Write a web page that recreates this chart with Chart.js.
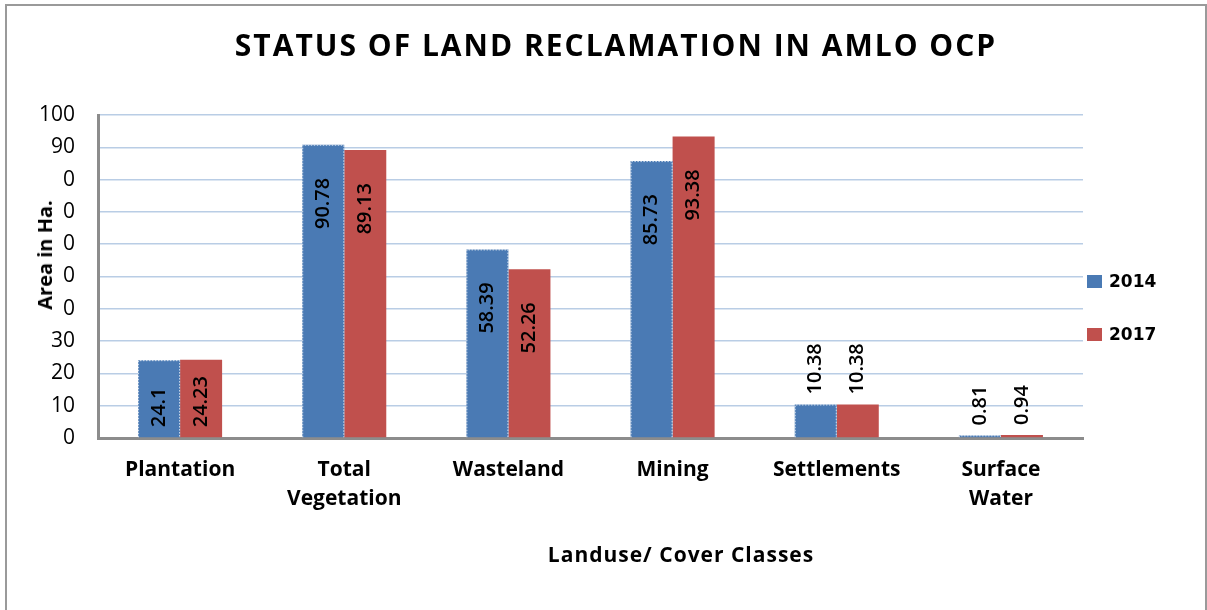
<!DOCTYPE html>
<html lang="en">
<head>
    <meta charset="UTF-8">
    <title>Status of Land Reclamation in Amlo OCP</title>
    <script src="https://cdn.jsdelivr.net/npm/chart.js"></script>
    <style>
        body {
            margin: 0;
            width: 1207px;
            height: 610px;
            overflow: hidden;
            background: #ffffff;
            font-family: 'Open Sans', sans-serif;
            position: relative;
        }
        .frame {
            position: absolute;
            left: 5px;
            top: 4px;
            width: 1198px;
            height: 640px;
            border: 2px solid #9a9a9a;
            pointer-events: none;
        }
        #chart {
            position: absolute;
            left: 0;
            top: 0;
        }
        .chart-title {
            position: absolute;
            left: 0;
            width: 1232px;
            top: 30px;
            text-align: center;
            font-size: 30px;
            line-height: 30px;
            letter-spacing: 2px;
            font-weight: bold;
            color: #000;
            white-space: nowrap;
        }
        .y-title {
            position: absolute;
            left: 45px;
            top: 255px;
            transform: translate(-50%, -50%) rotate(-90deg);
            font-size: 20px;
            line-height: 20px;
            font-weight: bold;
            white-space: nowrap;
        }
        .x-title {
            position: absolute;
            left: 481px;
            width: 400px;
            top: 544px;
            text-align: center;
            font-size: 21px;
            line-height: 21px;
            letter-spacing: 1px;
            font-weight: bold;
            white-space: nowrap;
        }
        .legend-item {
            position: absolute;
            left: 1087px;
            display: flex;
            align-items: center;
            height: 20px;
            font-family: 'DejaVu Sans', sans-serif;
            font-size: 17px;
            font-weight: bold;
        }
        .legend-item span.box {
            width: 15px;
            height: 13px;
            margin-right: 7px;
        }
    </style>
</head>
<body>
    <canvas id="chart" width="1207" height="610"></canvas>
    <div class="chart-title">STATUS OF LAND RECLAMATION IN AMLO OCP</div>
    <div class="y-title">Area in Ha.</div>
    <div class="x-title">Landuse/ Cover Classes</div>
    <div id="legend"></div>
    <div class="frame"></div>
    <script>
        const categories = ['Plantation', ['Total', 'Vegetation'], 'Wasteland', 'Mining', 'Settlements', ['Surface', 'Water']];
        const years = ['2014', '2017'];
        const area2014 = [24.1, 90.78, 58.39, 85.73, 10.38, 0.81];
        const area2017 = [24.23, 89.13, 52.26, 93.38, 10.38, 0.94];
        const yTickLabels = ['0', '10', '20', '30', '0', '0', '0', '0', '0', '90', '100'];

        const colors = ['#4a7ab4', '#c0504d'];

        // vertical value labels + dotted outline on the 2014 bars
        const barLabels = {
            id: 'barLabels',
            afterDatasetsDraw(chart) {
                const ctx = chart.ctx;
                chart.data.datasets.forEach((ds, di) => {
                    const meta = chart.getDatasetMeta(di);
                    meta.data.forEach((bar, i) => {
                        const half = bar.width / 2;
                        if (di === 0) {
                            ctx.save();
                            ctx.strokeStyle = 'rgba(255,255,255,0.75)';
                            ctx.lineWidth = 1;
                            ctx.setLineDash([1.5, 1.5]);
                            ctx.beginPath();
                            ctx.moveTo(bar.x - half + 0.5, bar.base);
                            ctx.lineTo(bar.x - half + 0.5, bar.y + 0.5);
                            ctx.lineTo(bar.x + half - 0.5, bar.y + 0.5);
                            ctx.lineTo(bar.x + half - 0.5, bar.base);
                            ctx.stroke();
                            ctx.restore();
                        }
                        const text = String(ds.data[i]);
                        ctx.save();
                        ctx.font = '600 20px "Open Sans"';
                        ctx.fillStyle = '#000';
                        const w = ctx.measureText(text).width;
                        let bottom;
                        if (bar.base - bar.y < w + 20) {
                            bottom = bar.y - 10;
                        } else {
                            bottom = Math.min(bar.y + 33 + w, bar.base - 10);
                        }
                        ctx.translate(bar.x, bottom);
                        ctx.rotate(-Math.PI / 2);
                        ctx.textAlign = 'left';
                        ctx.textBaseline = 'middle';
                        ctx.fillText(text, 0, 0);
                        ctx.restore();
                    });
                });
            }
        };

        const chart = new Chart(document.getElementById('chart'), {
            type: 'bar',
            data: {
                labels: categories,
                datasets: [
                    { label: years[0], data: area2014, backgroundColor: colors[0] },
                    { label: years[1], data: area2017, backgroundColor: colors[1] }
                ]
            },
            options: {
                responsive: false,
                animation: false,
                layout: { padding: { left: 0, right: 124, top: 115, bottom: 0 } },
                categoryPercentage: 0.512,
                barPercentage: 1.0,
                plugins: {
                    legend: { display: false },
                    title: { display: false },
                    tooltip: { enabled: false }
                },
                scales: {
                    x: {
                        grid: { display: false, drawTicks: false },
                        border: { color: '#8c8c8c', width: 3 },
                        ticks: {
                            color: '#000',
                            padding: 18,
                            maxRotation: 0,
                            autoSkip: false,
                            font: { family: 'Open Sans', size: 21, weight: 'bold', lineHeight: 1.35 }
                        },
                        afterFit(scale) { scale.height = 172; }
                    },
                    y: {
                        min: 0,
                        max: 100,
                        grid: { color: '#b9cde5', lineWidth: 1.5, drawTicks: false },
                        border: { color: '#8c8c8c', width: 3 },
                        ticks: {
                            stepSize: 10,
                            color: '#000',
                            padding: 23,
                            font: { family: 'Open Sans', size: 21 },
                            callback: (value, index) => yTickLabels[index]
                        },
                        afterFit(scale) { scale.width = 98; }
                    }
                }
            },
            plugins: [barLabels]
        });

        // legend built from the datasets
        const legend = document.getElementById('legend');
        chart.data.datasets.forEach((ds, i) => {
            const item = document.createElement('div');
            item.className = 'legend-item';
            item.style.top = (271 + i * 53) + 'px';
            item.innerHTML = '<span class="box" style="background:' + ds.backgroundColor + '"></span>' + ds.label;
            legend.appendChild(item);
        });
    </script>
</body>
</html>
